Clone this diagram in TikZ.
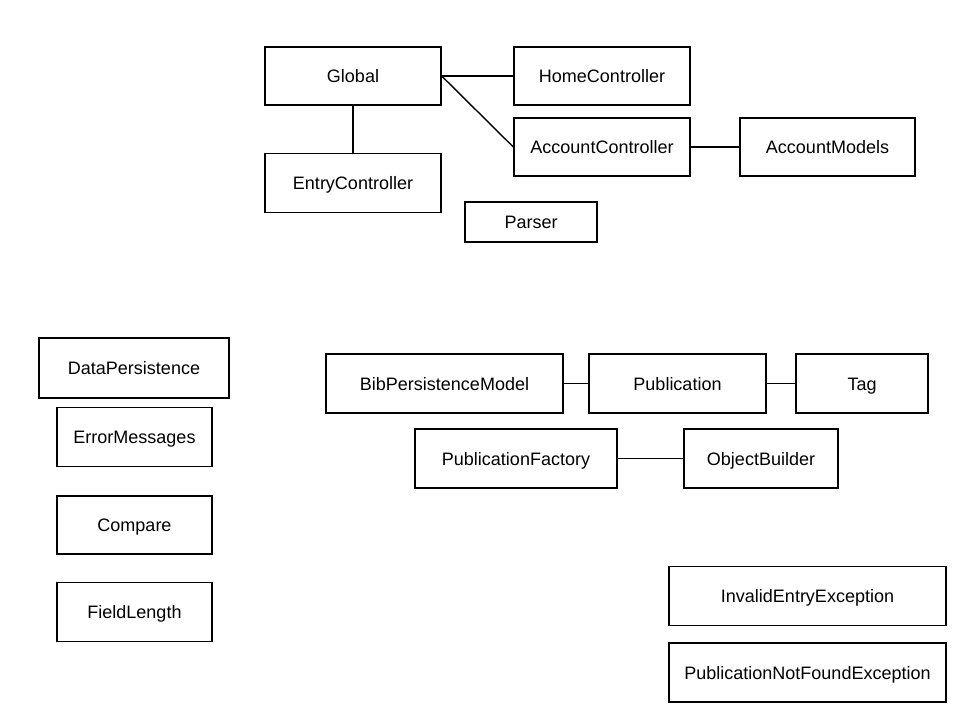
\documentclass[tikz,border=0pt]{standalone}
\usepackage{fontspec}
\setmainfont{Liberation Sans}
\begin{document}
\begin{tikzpicture}[x=1pt,y=-1pt,
  cls/.style={draw=black, line width=1.4pt, inner sep=0pt, anchor=center,
    text height=15pt, text depth=2pt,
    font=\fontsize{18}{21}\selectfont},
  link/.style={line width=1.4pt}]
\fill[white] (0,0) rectangle (960,720);
\useasboundingbox (0,0) rectangle (960,720);
\node[cls, minimum width=176, minimum height=58] (global) at (353,76) {Global};
\node[cls, minimum width=176, minimum height=58] (home) at (602,76) {HomeController};
\node[cls, minimum width=176, minimum height=58] (account) at (602,147) {AccountController};
\node[cls, minimum width=175, minimum height=58] (models) at (827.5,147) {AccountModels};
\node[cls, minimum width=176, minimum height=59] (entry) at (353,183) {EntryController};
\node[cls, minimum width=132, minimum height=40] (parser) at (531,222) {Parser};
\node[cls, minimum width=190, minimum height=60] (datap) at (134,368) {DataPersistence};
\node[cls, minimum width=155, minimum height=59] (errmsg) at (134.5,437) {ErrorMessages};
\node[cls, minimum width=155, minimum height=58] (compare) at (134.5,525) {Compare};
\node[cls, minimum width=155, minimum height=59] (fieldlen) at (134.5,612) {FieldLength};
\node[cls, minimum width=237, minimum height=59] (bib) at (444.5,383.5) {BibPersistenceModel};
\node[cls, minimum width=177, minimum height=59] (pub) at (677.5,383.5) {Publication};
\node[cls, minimum width=132, minimum height=59] (tag) at (862,383.5) {Tag};
\node[cls, minimum width=202, minimum height=59] (pubfac) at (516,458.5) {PublicationFactory};
\node[cls, minimum width=154, minimum height=59] (objb) at (761,458.5) {ObjectBuilder};
\node[cls, minimum width=277, minimum height=59] (invalid) at (807.5,596) {InvalidEntryException};
\node[cls, minimum width=277, minimum height=59] (notfound) at (807.5,672.5) {PublicationNotFoundException};
\draw[link] (global.east) -- (home.west);
\draw[link] (global.east) -- (account.west);
\draw[link] (global.south) -- (entry.north);
\draw[link] (account.east) -- (models.west);
\draw[link] (bib.east) -- (pub.west);
\draw[link] (pub.east) -- (tag.west);
\draw[link] (pubfac.east) -- (objb.west);
\end{tikzpicture}
\end{document}
